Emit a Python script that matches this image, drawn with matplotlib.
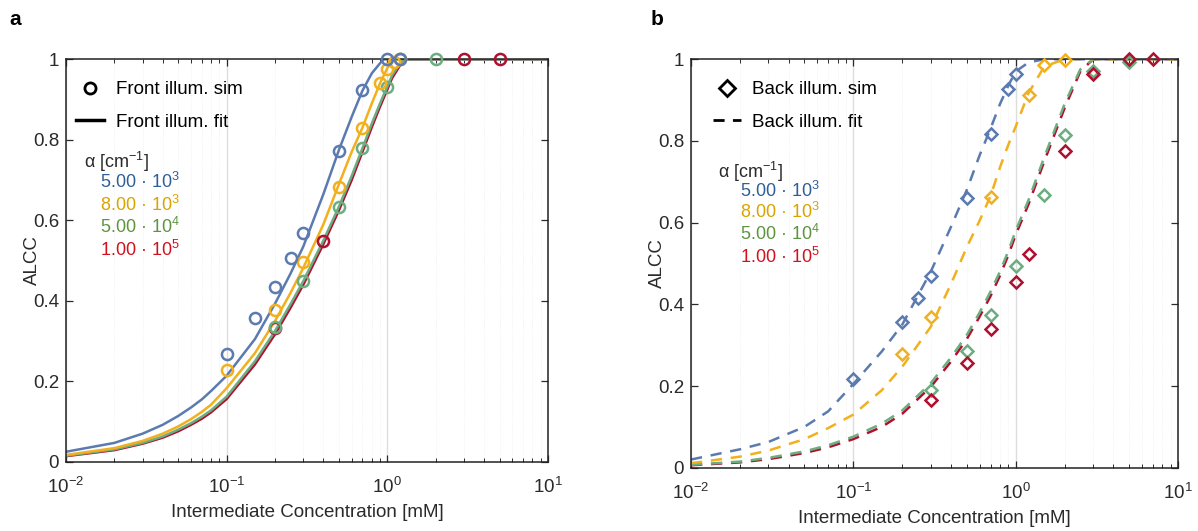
import numpy as np
import matplotlib
matplotlib.use('Agg')
import matplotlib.pyplot as plt
from matplotlib.lines import Line2D
from matplotlib.ticker import LogLocator, FixedLocator, FixedFormatter

plt.rcParams['font.family'] = ['Liberation Sans', 'DejaVu Sans']
plt.rcParams['mathtext.default'] = 'regular'
plt.rcParams['font.size'] = 12

# series names / colours
alpha_labels = ['5.00 · 10$^3$', '8.00 · 10$^3$', '5.00 · 10$^4$', '1.00 · 10$^5$']
line_cols = ['#5B7BB0', '#F2B01E', '#6BAE80', '#B01030']
text_cols = ['#2F5F98', '#D9A300', '#5E9440', '#D0121E']

# ---- panel a: front illumination ----
# simulated points
fa_blue_x = [0.1, 0.15, 0.2, 0.25, 0.3, 0.5, 0.7, 1.0, 1.2]
fa_blue_y = [0.268, 0.357, 0.435, 0.506, 0.568, 0.772, 0.924, 1.0, 1.0]
fa_yel_x = [0.1, 0.2, 0.3, 0.5, 0.7, 0.9, 1.0, 1.1, 1.2]
fa_yel_y = [0.228, 0.377, 0.497, 0.684, 0.83, 0.94, 0.976, 0.994, 1.0]
fa_grn_x = [0.2, 0.3, 0.5, 0.7, 1.0, 1.2, 2.0]
fa_grn_y = [0.335, 0.449, 0.634, 0.779, 0.932, 1.0, 1.0]
fa_red_x = [0.2, 0.4, 3.0, 5.0]
fa_red_y = [0.333, 0.549, 1.0, 1.0]

# fitted curves
fit_a_x = [0.01, 0.02, 0.03, 0.04, 0.05, 0.06, 0.07, 0.08, 0.1, 0.15, 0.2, 0.25, 0.3,
           0.4, 0.5, 0.6, 0.7, 0.8, 0.9, 0.95, 1.0, 1.07, 1.2, 1.32, 2.0, 10.0]
fit_a_blue = [0.025, 0.047, 0.070, 0.092, 0.114, 0.135, 0.155, 0.176, 0.214, 0.305, 0.393, 0.468, 0.535,
              0.665, 0.775, 0.857, 0.922, 0.965, 0.99, 1.0, 1.0, 1.0, 1.0, 1.0, 1.0, 1.0]
fit_a_yel = [0.017, 0.034, 0.052, 0.070, 0.088, 0.106, 0.124, 0.142, 0.183, 0.27, 0.35, 0.42, 0.482,
             0.59, 0.69, 0.77, 0.83, 0.89, 0.94, 0.96, 0.978, 1.0, 1.0, 1.0, 1.0, 1.0]
fit_a_grn = [0.015, 0.031, 0.047, 0.063, 0.080, 0.096, 0.112, 0.128, 0.162, 0.25, 0.325, 0.392, 0.449,
             0.55, 0.634, 0.71, 0.779, 0.84, 0.89, 0.912, 0.932, 0.96, 0.99, 1.0, 1.0, 1.0]
fit_a_red = [0.014, 0.029, 0.045, 0.060, 0.076, 0.092, 0.107, 0.123, 0.156, 0.242, 0.317, 0.383, 0.44,
             0.541, 0.625, 0.70, 0.77, 0.831, 0.882, 0.904, 0.925, 0.953, 0.985, 1.0, 1.0, 1.0]

# ---- panel b: back illumination ----
ba_blue_x = [0.1, 0.2, 0.25, 0.3, 0.5, 0.7, 0.9, 1.0]
ba_blue_y = [0.216, 0.357, 0.415, 0.469, 0.661, 0.817, 0.926, 0.965]
ba_yel_x = [0.2, 0.3, 0.7, 1.2, 1.5, 2.0]
ba_yel_y = [0.278, 0.37, 0.663, 0.912, 0.986, 0.998]
ba_grn_x = [0.3, 0.5, 0.7, 1.0, 1.5, 2.0, 3.0, 5.0]
ba_grn_y = [0.189, 0.286, 0.374, 0.494, 0.668, 0.814, 0.972, 0.992]
ba_red_x = [0.3, 0.5, 0.7, 1.0, 1.2, 2.0, 3.0, 5.0, 7.0]
ba_red_y = [0.166, 0.257, 0.340, 0.455, 0.523, 0.776, 0.963, 1.0, 1.0]

fit_b_x = [0.01, 0.02, 0.03, 0.05, 0.07, 0.1, 0.15, 0.2, 0.3, 0.4, 0.5, 0.6, 0.7, 0.8,
           0.9, 1.0, 1.2, 1.5, 2.0, 2.5, 3.0, 10.0]
fit_b_blue = [0.02, 0.045, 0.063, 0.10, 0.138, 0.205, 0.285, 0.35, 0.48, 0.59, 0.68, 0.765, 0.83, 0.89,
              0.935, 0.97, 0.992, 1.0, 1.0, 1.0, 1.0, 1.0]
fit_b_yel = [0.011, 0.027, 0.042, 0.070, 0.097, 0.13, 0.19, 0.247, 0.345, 0.45, 0.54, 0.605, 0.665, 0.735,
             0.79, 0.835, 0.917, 0.982, 1.0, 1.0, 1.0, 1.0]
fit_b_grn = [0.007, 0.015, 0.024, 0.040, 0.055, 0.076, 0.108, 0.14, 0.207, 0.27, 0.325, 0.38, 0.431, 0.48,
             0.53, 0.58, 0.655, 0.76, 0.89, 0.975, 1.0, 1.0]
fit_b_red = [0.006, 0.013, 0.021, 0.036, 0.05, 0.07, 0.1, 0.132, 0.198, 0.26, 0.315, 0.37, 0.42, 0.47,
             0.52, 0.57, 0.645, 0.75, 0.88, 0.97, 1.0, 1.0]

yticks = [0, 0.2, 0.4, 0.6, 0.8, 1.0]
ytick_labels = ['0', '0.2', '0.4', '0.6', '0.8', '1']

fig = plt.figure(figsize=(11.98, 5.31), dpi=100)
axa = fig.add_axes([0.0551, 0.1303, 0.4023, 0.758])
axb = fig.add_axes([0.5768, 0.1192, 0.4065, 0.7693])


def style(ax):
    ax.set_xscale('log')
    ax.set_xlim(0.01, 10)
    ax.set_ylim(0, 1)
    ax.xaxis.set_major_locator(LogLocator(base=10, numticks=10))
    ax.xaxis.set_minor_locator(LogLocator(base=10, subs=np.arange(2, 10), numticks=10))
    ax.yaxis.set_major_locator(FixedLocator(yticks))
    ax.yaxis.set_major_formatter(FixedFormatter(ytick_labels))
    ax.tick_params(which='both', direction='in', top=True, right=True, labelsize=13.5, colors='#2a2a2a')
    ax.tick_params(which='major', length=5, width=0.9)
    ax.tick_params(which='minor', length=3, width=0.7)
    ax.tick_params(axis='x', pad=11)
    ax.tick_params(axis='y', pad=5)
    ax.grid(True, which='major', axis='x', color='#dddddd', lw=1.0)
    ax.grid(True, which='minor', axis='x', color='#eeeeee', lw=0.6, ls=':')
    ax.set_axisbelow(True)
    for s in ax.spines.values():
        s.set_linewidth(1.1)
        s.set_color('#222222')
    ax.set_xlabel('Intermediate Concentration [mM]', fontsize=13.5, color='#2a2a2a', labelpad=5)
    ax.set_ylabel('ALCC', fontsize=13.5, color='#2a2a2a', labelpad=-6)


style(axa)
style(axb)

# panel a
fits_a = [fit_a_blue, fit_a_yel, fit_a_grn, fit_a_red]
for i in [3, 2, 1, 0]:
    axa.plot(fit_a_x, fits_a[i], color=line_cols[i], lw=1.8, zorder=2)
pts_a = [(fa_blue_x, fa_blue_y), (fa_yel_x, fa_yel_y), (fa_grn_x, fa_grn_y), (fa_red_x, fa_red_y)]
for i in [3, 2, 1, 0]:
    px, py = pts_a[i]
    axa.plot(px, py, ls='none', marker='o', ms=8, mfc='none', mec=line_cols[i], mew=1.8,
             zorder=3, clip_on=False)

# panel b
fits_b = [fit_b_blue, fit_b_yel, fit_b_grn, fit_b_red]
for i in [3, 2, 1, 0]:
    axb.plot(fit_b_x, fits_b[i], color=line_cols[i], lw=1.8, ls=(0, (4.5, 3.5)), zorder=2)
pts_b = [(ba_blue_x, ba_blue_y), (ba_yel_x, ba_yel_y), (ba_grn_x, ba_grn_y), (ba_red_x, ba_red_y)]
for i in [0, 1, 2, 3]:
    px, py = pts_b[i]
    axb.plot(px, py, ls='none', marker='D', ms=6.5, mfc='none', mec=line_cols[i], mew=1.8,
             zorder=3, clip_on=False)

# legends
ha = [Line2D([], [], ls='none', marker='o', ms=8, mfc='none', mec='k', mew=2),
      Line2D([], [], color='k', lw=2.5)]
axa.legend(ha, ['Front illum. sim', 'Front illum. fit'], loc='upper left',
           bbox_to_anchor=(-0.006, 0.978), frameon=False, fontsize=13.5,
           handlelength=1.5, handletextpad=0.6, labelspacing=0.8, borderpad=0.2)
hb = [Line2D([], [], ls='none', marker='D', ms=8, mfc='none', mec='k', mew=2),
      Line2D([], [], color='k', lw=2, ls=(0, (4, 3)))]
axb.legend(hb, ['Back illum. sim', 'Back illum. fit'], loc='upper left',
           bbox_to_anchor=(0.018, 0.978), frameon=False, fontsize=13.5,
           handlelength=1.5, handletextpad=0.6, labelspacing=0.8, borderpad=0.2)

axa.text(0.037, 0.745, 'α [cm$^{-1}$]', transform=axa.transAxes, fontsize=13,
         color='#2a2a2a', va='center')
axb.text(0.055, 0.724, 'α [cm$^{-1}$]', transform=axb.transAxes, fontsize=13,
         color='#2a2a2a', va='center')
ya = [0.695, 0.638, 0.583, 0.526]
yb = [0.678, 0.625, 0.572, 0.516]
for i in range(4):
    axa.text(0.07, ya[i], alpha_labels[i], transform=axa.transAxes, fontsize=13,
             color=text_cols[i], va='center')
    axb.text(0.1, yb[i], alpha_labels[i], transform=axb.transAxes, fontsize=13,
             color=text_cols[i], va='center')

fig.text(0.008, 0.953, 'a', fontsize=15, fontweight='bold')
fig.text(0.543, 0.953, 'b', fontsize=15, fontweight='bold')

fig.savefig('out.png', dpi=100)
